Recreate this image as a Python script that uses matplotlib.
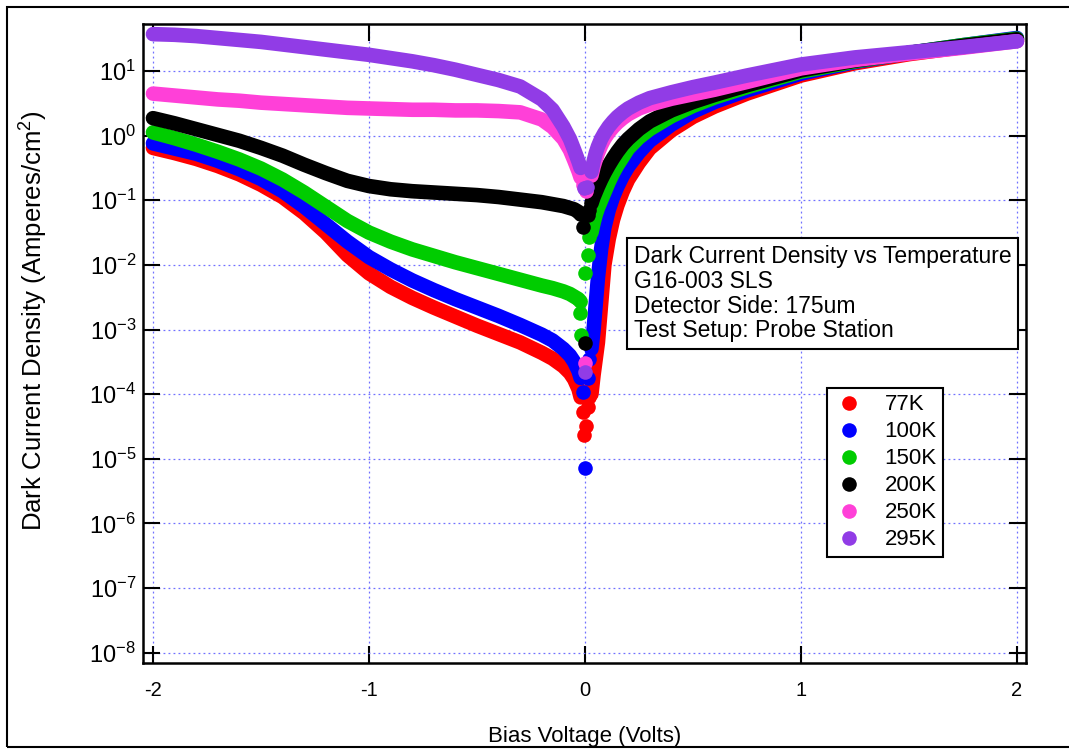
import numpy as np
import matplotlib.pyplot as plt
from matplotlib.patches import Rectangle
from matplotlib.ticker import FixedLocator, FuncFormatter

plt.rcParams['font.family'] = ['Liberation Sans', 'DejaVu Sans']
plt.rcParams['mathtext.fontset'] = 'custom'
plt.rcParams['mathtext.rm'] = 'Liberation Sans'
plt.rcParams['mathtext.it'] = 'Liberation Sans:italic'
plt.rcParams['axes.unicode_minus'] = False

# Bias grids (V); current densities, stored as log10(J)
v_rev = [-2.0, -1.9, -1.8, -1.7, -1.6, -1.5, -1.4, -1.3, -1.2, -1.1, -1.0, -0.9, -0.8,
         -0.7, -0.6, -0.5, -0.4, -0.3, -0.2, -0.15, -0.1, -0.07, -0.05, -0.03, -0.02]
v_fwd = [0.03, 0.04, 0.05, 0.06, 0.075, 0.09, 0.11, 0.13, 0.15, 0.175, 0.2, 0.25, 0.3,
         0.4, 0.5, 0.6, 0.75, 1.0, 1.25, 1.5, 1.75, 2.0]

labels = ['77K', '100K', '150K', '200K', '250K', '295K']
colors = ['#ff0000', '#0000ff', '#00cc00', '#000000', '#ff40d8', '#913ce6']

rev_77 = [-0.19, -0.27, -0.36, -0.47, -0.60, -0.76, -0.95, -1.20, -1.50, -1.85, -2.13, -2.34, -2.51,
          -2.66, -2.80, -2.94, -3.07, -3.20, -3.36, -3.45, -3.57, -3.67, -3.77, -3.92, -4.05]
rev_100 = [-0.12, -0.20, -0.28, -0.39, -0.52, -0.67, -0.86, -1.10, -1.37, -1.64, -1.88, -2.07, -2.24,
           -2.39, -2.53, -2.66, -2.79, -2.93, -3.08, -3.17, -3.30, -3.40, -3.50, -3.64, -3.75]
rev_150 = [0.05, -0.04, -0.14, -0.25, -0.37, -0.51, -0.68, -0.88, -1.10, -1.32, -1.50, -1.64, -1.76,
           -1.86, -1.96, -2.05, -2.14, -2.23, -2.32, -2.36, -2.41, -2.45, -2.49, -2.53, -2.57]
rev_200 = [0.27, 0.19, 0.10, 0.01, -0.08, -0.19, -0.31, -0.45, -0.58, -0.70, -0.78, -0.83, -0.86,
           -0.88, -0.90, -0.92, -0.95, -0.99, -1.03, -1.06, -1.09, -1.12, -1.14, -1.18, -1.22]
rev_250 = [0.65, 0.62, 0.59, 0.56, 0.54, 0.51, 0.49, 0.47, 0.45, 0.43, 0.42, 0.41, 0.40,
           0.40, 0.39, 0.39, 0.38, 0.36, 0.25, 0.13, -0.05, -0.22, -0.38, -0.55, -0.65]
rev_295 = [1.57, 1.56, 1.54, 1.51, 1.48, 1.45, 1.41, 1.37, 1.33, 1.29, 1.25, 1.20, 1.15,
           1.09, 1.02, 0.94, 0.86, 0.76, 0.56, 0.40, 0.14, -0.05, -0.22, -0.40, -0.50]

fwd_77 = [-4.0, -3.7, -3.45, -3.2, -2.6, -2.0, -1.6, -1.3, -1.08, -0.86, -0.68, -0.42, -0.20,
          0.08, 0.29, 0.45, 0.65, 0.93, 1.12, 1.26, 1.37, 1.47]
fwd_100 = [-3.3, -3.0, -2.6, -2.2, -1.75, -1.42, -1.15, -0.95, -0.79, -0.62, -0.48, -0.26, -0.08,
           0.17, 0.37, 0.52, 0.70, 0.96, 1.14, 1.28, 1.40, 1.51]
fwd_150 = [-1.5, -1.35, -1.22, -1.12, -1.0, -0.88, -0.72, -0.58, -0.46, -0.33, -0.20, -0.03, 0.10,
           0.30, 0.46, 0.59, 0.75, 0.99, 1.15, 1.28, 1.40, 1.50]
fwd_200 = [-1.05, -0.95, -0.87, -0.79, -0.68, -0.58, -0.46, -0.35, -0.25, -0.14, -0.05, 0.10, 0.22,
           0.39, 0.52, 0.63, 0.78, 1.01, 1.16, 1.28, 1.39, 1.49]
fwd_250 = [-0.62, -0.48, -0.37, -0.27, -0.15, -0.05, 0.05, 0.13, 0.20, 0.27, 0.33, 0.42, 0.48,
           0.57, 0.64, 0.71, 0.83, 1.04, 1.17, 1.27, 1.36, 1.46]
fwd_295 = [-0.56, -0.40, -0.27, -0.17, -0.05, 0.04, 0.14, 0.22, 0.29, 0.36, 0.42, 0.51, 0.58,
           0.67, 0.75, 0.82, 0.93, 1.10, 1.21, 1.29, 1.37, 1.46]

# isolated points around 0 V (V, log10 J)
cusp_77 = [(-0.01, -4.27), (-0.004, -4.63), (0.004, -4.50), (0.012, -4.2), (0.02, -4.05)]
cusp_100 = [(-0.01, -3.97), (0.0, -5.15), (0.012, -3.75), (0.02, -3.45)]
cusp_150 = [(-0.025, -2.75), (-0.02, -3.09), (0.0, -2.13), (0.012, -1.85), (0.02, -1.57)]
cusp_200 = [(-0.01, -1.41), (0.0, -3.21), (0.012, -1.23), (0.02, -1.15)]
cusp_250 = [(-0.01, -0.77), (0.005, -0.85), (0.0, -3.52)]
cusp_295 = [(-0.005, -0.81), (0.008, -0.8), (0.0, -3.65)]

revs = [rev_77, rev_100, rev_150, rev_200, rev_250, rev_295]
fwds = [fwd_77, fwd_100, fwd_150, fwd_200, fwd_250, fwd_295]
cusps = [cusp_77, cusp_100, cusp_150, cusp_200, cusp_250, cusp_295]

fig = plt.figure(figsize=(10.69, 7.5), dpi=100)
ax = fig.add_axes([0.1338, 0.116, 0.826, 0.852])

band = 10.5  # points
for lab, col, r, f, c in zip(labels, colors, revs, fwds, cusps):
    ax.plot(v_rev, 10 ** np.array(r), color=col, lw=band,
            solid_capstyle='round', solid_joinstyle='round')
    ax.plot(v_fwd, 10 ** np.array(f), color=col, lw=band,
            solid_capstyle='round', solid_joinstyle='round')
    cv = [p[0] for p in c]
    cj = [10 ** p[1] for p in c]
    ax.plot(cv, cj, 'o', color=col, ms=band, mec='none', label=lab)

ax.set_yscale('log')
ax.set_xlim(-2.046, 2.042)
ax.set_ylim(10 ** -8.16, 10 ** 1.727)
ax.xaxis.set_major_locator(FixedLocator([-2, -1, 0, 1, 2]))
ax.yaxis.set_major_locator(FixedLocator([10.0 ** k for k in range(-8, 2)]))
ax.yaxis.set_major_formatter(FuncFormatter(lambda y, p: r'$10^{%d}$' % round(np.log10(y))))
ax.minorticks_off()
ax.tick_params(which='major', direction='in', length=12, width=1.5, top=True, right=True)
ax.tick_params(axis='x', labelsize=14.5, pad=13)
ax.tick_params(axis='y', labelsize=17, pad=5)
for s in ax.spines.values():
    s.set_linewidth(1.8)

ax.grid(True, color='#7070ff', linestyle=(0, (1.5, 2.5)), linewidth=0.9)
ax.set_axisbelow(True)

ax.set_xlabel('Bias Voltage (Volts)', fontsize=16, labelpad=19)
ax.set_ylabel('Dark Current Density (Amperes/cm$^2$)', fontsize=18.5)
ax.yaxis.set_label_coords(-0.105, 0.535)

ax.text(0.556, 0.654,
        'Dark Current Density vs Temperature\nG16-003 SLS\nDetector Side: 175um\nTest Setup: Probe Station',
        transform=ax.transAxes, ha='left', va='top', fontsize=16.5, linespacing=1.1,
        bbox=dict(boxstyle='square,pad=0.3', fc='white', ec='black', lw=1.5))

leg = ax.legend(loc='upper left', bbox_to_anchor=(0.775, 0.43), fontsize=16, borderaxespad=0,
                frameon=True, fancybox=False, edgecolor='black', framealpha=1,
                labelspacing=0.27, handletextpad=0.9, borderpad=0.28, handlelength=1.4)
leg.get_frame().set_linewidth(1.5)

fig.patches.append(Rectangle((7 / 1069, 3 / 750), 1.1, 740 / 750, transform=fig.transFigure,
                             fill=False, ec='black', lw=1.5))

fig.savefig('out.png', dpi=100)
